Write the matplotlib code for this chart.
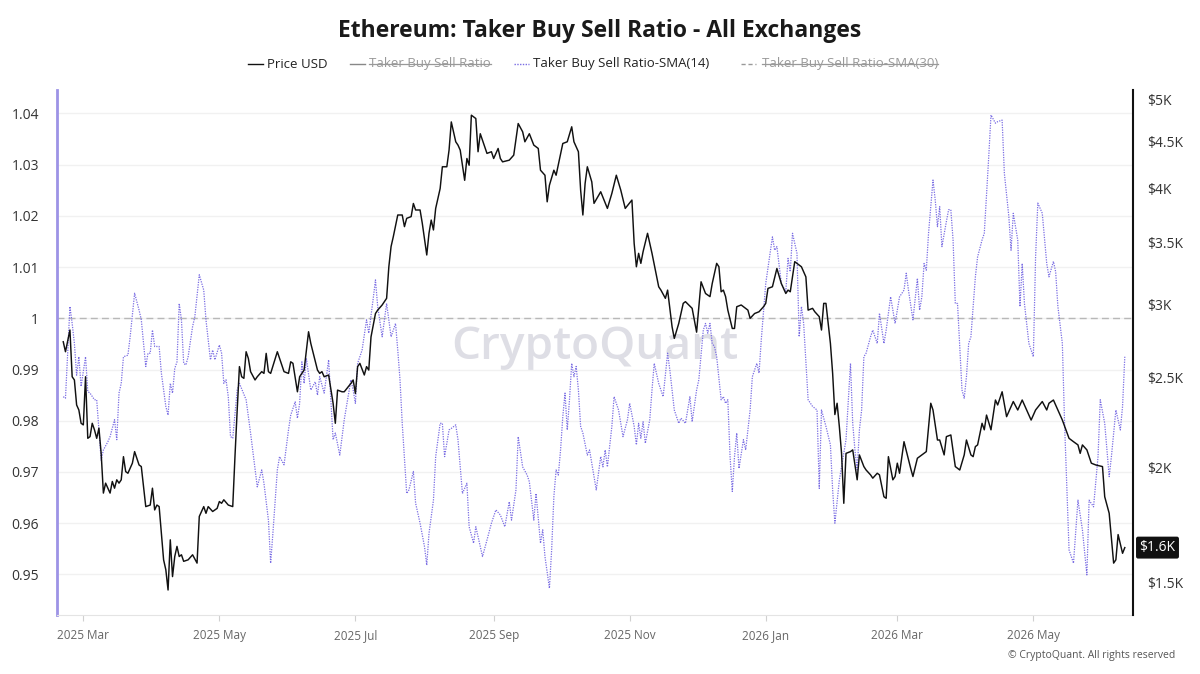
import matplotlib
matplotlib.use("Agg")
import matplotlib.pyplot as plt
import matplotlib.dates as mdates
import matplotlib.transforms as mtransforms
from matplotlib.lines import Line2D
from matplotlib.ticker import FixedLocator, FuncFormatter, NullLocator
import pandas as pd

plt.rcParams['font.family'] = ['Open Sans', 'DejaVu Sans']

# Series start (day 0)
start = pd.Timestamp("2025-02-20")

# Price USD (right axis, log) - days since start / value
price_day = [0, 1, 3, 4, 5, 6, 7, 8, 9, 10, 11, 12, 13, 14, 15, 16, 17, 18, 19, 20,
             21, 22, 23, 24, 25, 26, 27, 28, 29, 31, 32, 34, 35, 36, 37, 39, 40, 41, 42, 43,
             44, 45, 46, 47, 48, 49, 50, 51, 52, 53, 54, 56, 58, 60, 61, 62, 63, 64, 65, 67,
             69, 70, 71, 72, 74, 76, 77, 78, 79, 80, 81, 82, 83, 84, 86, 87, 89, 90, 91, 92,
             93, 96, 99, 101, 102, 103, 105, 106, 108, 110, 111, 114, 115, 116, 117, 119, 121, 122, 123, 125,
             126, 129, 130, 131, 132, 133, 135, 136, 137, 138, 140, 141, 143, 145, 146, 147, 148, 150, 152, 153,
             154, 156, 157, 158, 160, 161, 163, 164, 165, 166, 167, 169, 170, 172, 173, 174, 176, 177, 178, 180,
             181, 182, 183, 185, 186, 187, 188, 190, 192, 193, 195, 196, 197, 200, 202, 204, 206, 207, 209, 211,
             213, 214, 216, 217, 218, 220, 221, 224, 226, 228, 229, 231, 232, 233, 234, 235, 237, 238, 241, 244,
             246, 248, 250, 252, 255, 256, 257, 258, 259, 260, 262, 264, 267, 268, 270, 271, 273, 274, 276, 278,
             279, 282, 284, 286, 288, 290, 291, 293, 294, 295, 296, 297, 298, 300, 301, 302, 304, 307, 308, 310,
             312, 314, 315, 316, 318, 320, 322, 324, 325, 326, 328, 330, 331, 333, 334, 336, 337, 339, 340, 341,
             342, 343, 344, 345, 346, 347, 348, 349, 350, 351, 353, 354, 356, 357, 359, 360, 362, 363, 365, 366,
             368, 369, 370, 372, 373, 374, 375, 377, 380, 381, 383, 387, 389, 390, 392, 393, 395, 396, 398, 400,
             402, 404, 405, 407, 408, 409, 410, 412, 413, 414, 416, 418, 419, 421, 423, 426, 428, 430, 434, 436,
             439, 441, 442, 444, 447, 448, 451, 453, 455, 456, 457, 459, 461, 463, 466, 467, 469, 471, 472, 473,
             475, 476]
price_usd = [2734, 2667, 2815, 2506, 2486, 2336, 2307, 2232, 2223, 2506, 2150, 2159, 2232, 2196, 2150, 2205, 2071, 1876, 1923, 1899,
             1876, 1931, 1899, 1939, 1923, 1939, 2054, 1979, 1971, 2021, 2080, 2012, 2004, 1907, 1814, 1821, 1899, 1799, 1821, 1814,
             1698, 1589, 1550, 1474, 1670, 1524, 1602, 1643, 1602, 1609, 1583, 1589, 1609, 1576, 1770, 1792, 1814, 1784, 1814, 1792,
             1806, 1837, 1829, 1845, 1821, 1814, 2054, 2307, 2570, 2506, 2496, 2667, 2623, 2538, 2486, 2506, 2538, 2527, 2656, 2538,
             2527, 2667, 2538, 2527, 2601, 2591, 2414, 2506, 2548, 2803, 2723, 2548, 2527, 2538, 2506, 2517, 2346, 2232, 2424, 2414,
             2414, 2465, 2486, 2404, 2570, 2591, 2517, 2570, 2548, 2767, 2933, 2958, 2996, 3046, 3295, 3465, 3551, 3748, 3748, 3641,
             3717, 3733, 3857, 3795, 3795, 3671, 3393, 3581, 3701, 3611, 3810, 4003, 4226, 4226, 4405, 4725, 4497, 4460, 4405, 4086,
             4314, 4242, 4805, 4765, 4387, 4588, 4515, 4369, 4387, 4314, 4423, 4314, 4278, 4296, 4350, 4706, 4610, 4497, 4588, 4460,
             4423, 4190, 4138, 3873, 4036, 4190, 4138, 4478, 4497, 4668, 4497, 4387, 3987, 3748, 4053, 4226, 4070, 3858, 3971, 3810,
             3955, 4138, 3987, 3810, 3890, 3492, 3295, 3407, 3323, 3421, 3581, 3407, 3135, 3109, 3046, 3109, 2838, 2757, 2862, 3008,
             3021, 2971, 2800, 3174, 3083, 3059, 3160, 3323, 3295, 3096, 3109, 3059, 2958, 2826, 2826, 2983, 2996, 2958, 2898, 2933,
             2946, 2983, 3008, 3122, 3135, 3281, 3160, 3083, 3109, 3096, 3337, 3309, 3295, 3213, 2958, 2971, 2946, 2910, 2815, 3008,
             3008, 2862, 2723, 2527, 2281, 2346, 2214, 2071, 1829, 2071, 2080, 2089, 1939, 2063, 2004, 1987, 1963, 1947, 1971, 1963,
             1859, 1852, 2054, 1939, 1955, 2021, 1971, 2132, 1995, 1955, 2046, 2080, 2346, 2307, 2141, 2141, 2063, 2159, 2168, 2004,
             1987, 2063, 2141, 2063, 2054, 2106, 2115, 2232, 2196, 2278, 2196, 2365, 2336, 2414, 2269, 2356, 2307, 2365, 2250, 2307,
             2356, 2307, 2346, 2365, 2278, 2250, 2150, 2132, 2115, 2071, 2115, 2089, 2021, 2012, 2004, 1859, 1784, 1576, 1589, 1692,
             1615, 1638]

# Taker Buy Sell Ratio-SMA(14) (left axis) - days since start / value
sma_day = [0, 1, 3, 4, 5, 6, 7, 8, 10, 11, 12, 14, 15, 17, 18, 20, 21, 23, 24, 25,
           26, 27, 29, 30, 32, 34, 35, 37, 38, 39, 40, 41, 43, 44, 46, 47, 48, 49, 50, 51,
           52, 53, 54, 55, 56, 58, 59, 61, 63, 64, 66, 67, 68, 70, 71, 72, 73, 74, 75, 76,
           78, 79, 82, 84, 87, 89, 90, 92, 93, 94, 96, 97, 99, 101, 102, 104, 105, 106, 107, 108,
           109, 111, 113, 114, 115, 117, 119, 121, 122, 124, 126, 129, 130, 131, 132, 134, 136, 137, 139, 140,
           141, 143, 145, 147, 149, 150, 151, 152, 154, 155, 157, 158, 160, 162, 163, 164, 166, 167, 169, 170,
           171, 173, 174, 176, 177, 179, 181, 182, 184, 185, 188, 190, 192, 194, 196, 198, 200, 201, 203, 204,
           206, 208, 209, 211, 212, 214, 215, 216, 218, 219, 220, 221, 222, 223, 224, 225, 226, 227, 228, 229,
           230, 231, 232, 233, 235, 236, 237, 239, 241, 242, 243, 244, 246, 247, 249, 251, 253, 254, 256, 257,
           258, 259, 260, 261, 263, 264, 265, 267, 269, 271, 272, 273, 274, 276, 277, 279, 281, 282, 284, 285,
           287, 288, 289, 290, 291, 292, 293, 295, 296, 297, 298, 299, 300, 301, 302, 303, 305, 306, 308, 309,
           311, 312, 313, 315, 318, 319, 320, 322, 324, 325, 326, 327, 329, 330, 331, 332, 334, 336, 338, 339,
           340, 342, 344, 345, 346, 348, 351, 353, 354, 355, 356, 357, 358, 359, 360, 362, 363, 365, 366, 368,
           369, 371, 373, 375, 377, 378, 379, 381, 383, 384, 385, 386, 387, 388, 390, 391, 392, 393, 394, 396,
           397, 398, 399, 400, 401, 402, 403, 404, 405, 406, 407, 409, 410, 412, 413, 415, 416, 418, 419, 421,
           422, 424, 425, 426, 428, 429, 430, 431, 433, 435, 436, 437, 439, 441, 442, 444, 445, 446, 448, 449,
           451, 453, 455, 457, 459, 460, 462, 464, 465, 467, 469, 470, 472, 474, 475, 476]
sma14 = [0.9847, 0.9844, 1.0023, 0.9990, 0.9951, 0.9889, 0.9925, 0.9867, 0.9925, 0.9857, 0.9854, 0.9841, 0.9841, 0.9723, 0.9743, 0.9759, 0.9769, 0.9802, 0.9763, 0.9854,
         0.9873, 0.9925, 0.9928, 0.9964, 1.0049, 1.0016, 0.9997, 0.9906, 0.9932, 0.9932, 0.9977, 0.9945, 0.9945, 0.9893, 0.9828, 0.9811, 0.9873, 0.9854, 0.9902, 0.9915,
         1.0029, 0.9997, 0.9912, 0.9909, 0.9925, 0.9984, 1.0003, 1.0085, 1.0055, 0.9997, 0.9919, 0.9938, 0.9919, 0.9948, 0.9932, 0.9873, 0.9880, 0.9847, 0.9769, 0.9766,
         0.9860, 0.9873, 0.9841, 0.9776, 0.9671, 0.9704, 0.9678, 0.9606, 0.9522, 0.9580, 0.9704, 0.9730, 0.9714, 0.9782, 0.9811, 0.9837, 0.9805, 0.9834, 0.9915, 0.9873,
         0.9922, 0.9860, 0.9876, 0.9850, 0.9886, 0.9854, 0.9919, 0.9763, 0.9776, 0.9733, 0.9802, 0.9880, 0.9860, 0.9834, 0.9912, 0.9938, 0.9997, 0.9971, 1.0039, 1.0075,
         1.0023, 0.9964, 1.0029, 0.9964, 0.9990, 0.9938, 0.9880, 0.9795, 0.9658, 0.9665, 0.9701, 0.9639, 0.9600, 0.9554, 0.9518, 0.9580, 0.9645, 0.9730, 0.9795, 0.9795,
         0.9730, 0.9782, 0.9785, 0.9792, 0.9763, 0.9658, 0.9678, 0.9593, 0.9561, 0.9593, 0.9535, 0.9567, 0.9600, 0.9626, 0.9616, 0.9593, 0.9642, 0.9606, 0.9665, 0.9769,
         0.9710, 0.9694, 0.9681, 0.9606, 0.9658, 0.9561, 0.9587, 0.9535, 0.9473, 0.9548, 0.9652, 0.9704, 0.9694, 0.9743, 0.9808, 0.9854, 0.9782, 0.9841, 0.9912, 0.9886,
         0.9906, 0.9860, 0.9789, 0.9776, 0.9733, 0.9743, 0.9717, 0.9665, 0.9730, 0.9710, 0.9743, 0.9710, 0.9789, 0.9847, 0.9821, 0.9769, 0.9802, 0.9834, 0.9789, 0.9753,
         0.9795, 0.9766, 0.9798, 0.9756, 0.9802, 0.9860, 0.9912, 0.9873, 0.9847, 0.9932, 0.9899, 0.9860, 0.9821, 0.9795, 0.9805, 0.9795, 0.9847, 0.9798, 0.9860, 0.9880,
         0.9977, 0.9990, 0.9971, 0.9990, 0.9951, 0.9945, 0.9925, 0.9841, 0.9847, 0.9834, 0.9841, 0.9730, 0.9662, 0.9730, 0.9776, 0.9707, 0.9763, 0.9743, 0.9821, 0.9886,
         0.9912, 0.9893, 0.9958, 1.0068, 1.0159, 1.0133, 1.0140, 1.0068, 1.0052, 1.0117, 1.0091, 1.0166, 1.0127, 0.9964, 1.0023, 0.9990, 0.9841, 0.9828, 0.9821, 0.9668,
         0.9821, 0.9789, 0.9753, 0.9665, 0.9600, 0.9684, 0.9763, 0.9912, 0.9795, 0.9743, 0.9704, 0.9782, 0.9821, 0.9925, 0.9932, 0.9964, 0.9977, 0.9951, 1.0010, 0.9951,
         0.9977, 1.0042, 0.9990, 1.0042, 1.0055, 1.0088, 1.0055, 0.9997, 1.0078, 1.0016, 1.0042, 1.0107, 1.0094, 1.0166, 1.0270, 1.0231, 1.0179, 1.0218, 1.0140, 1.0189,
         1.0212, 1.0212, 1.0153, 1.0029, 1.0029, 0.9945, 0.9860, 0.9844, 0.9886, 0.9951, 0.9964, 1.0081, 1.0120, 1.0153, 1.0166, 1.0316, 1.0397, 1.0381, 1.0384, 1.0387,
         1.0283, 1.0199, 1.0133, 1.0205, 1.0153, 1.0023, 1.0107, 1.0029, 0.9951, 0.9925, 1.0120, 1.0225, 1.0205, 1.0107, 1.0081, 1.0111, 1.0091, 1.0023, 0.9951, 0.9795,
         0.9548, 0.9522, 0.9645, 0.9587, 0.9499, 0.9645, 0.9632, 0.9730, 0.9841, 0.9795, 0.9691, 0.9730, 0.9821, 0.9782, 0.9828, 0.9925]

ratio_ticks = [0.95, 0.96, 0.97, 0.98, 0.99, 1.00, 1.01, 1.02, 1.03, 1.04]
price_ticks = [1500, 2000, 2500, 3000, 3500, 4000, 4500, 5000]

legend_labels = ["Price USD", "Taker Buy Sell Ratio", "Taker Buy Sell Ratio-SMA(14)", "Taker Buy Sell Ratio-SMA(30)"]
legend_hidden = [False, True, False, True]

price_dates = start + pd.to_timedelta(price_day, unit="D")
sma_dates = start + pd.to_timedelta(sma_day, unit="D")

purple = "#7a6de3"

fig = plt.figure(figsize=(12, 6.74), dpi=100)
ax = fig.add_axes([0.0475, 0.0875, 0.8967, 0.7789])
ax2 = ax.twinx()

# watermark
ax.text(0.5, 0.51, "CryptoQuant", transform=ax.transAxes, ha="center", va="center",
        fontsize=33, fontweight="semibold", color="#dedee5", zorder=0)

ax.axhline(1.0, color="#b8b8b8", lw=1, dashes=(5, 3), zorder=1)
ax.plot(sma_dates, sma14, color=purple, lw=0.9, linestyle=(0, (1, 1)), zorder=2)
ax2.plot(price_dates, price_usd, color="#111111", lw=1.05, zorder=3)

ax.set_ylim(0.94207, 1.04457)
ax2.set_yscale("log")
ax2.set_ylim(1385, 5115)
ax.set_xlim(start - pd.Timedelta(days=2.8), start + pd.Timedelta(days=479.7))

ax.yaxis.set_major_locator(FixedLocator(ratio_ticks))
ax.yaxis.set_major_formatter(FuncFormatter(lambda v, p: f"{round(v, 2):g}"))
ax.yaxis.grid(True, color="#f1f1f1", lw=1)
ax.set_axisbelow(True)
ax.tick_params(axis="y", length=0, pad=13, labelsize=10, labelcolor="#333333")

ax2.yaxis.set_major_locator(FixedLocator(price_ticks))
ax2.yaxis.set_minor_locator(NullLocator())
ax2.yaxis.set_major_formatter(FuncFormatter(lambda v, p: f"${v / 1000:g}K"))
ax2.tick_params(axis="y", which="both", length=0, pad=10, labelsize=10, labelcolor="#333333")

ax.xaxis.set_major_locator(mdates.MonthLocator(bymonth=[1, 3, 5, 7, 9, 11]))
ax.xaxis.set_major_formatter(mdates.DateFormatter("%Y %b"))
ax.tick_params(axis="x", length=4, color="#d0d0d0", labelsize=8.5, labelcolor="#666666", pad=6)

for s in ["top", "right"]:
    ax.spines[s].set_visible(False)
ax.spines["left"].set_color("#9d93e6")
ax.spines["left"].set_linewidth(2)
ax.spines["bottom"].set_color("#e4e4e4")
for s in ["top", "left", "bottom"]:
    ax2.spines[s].set_visible(False)
ax2.spines["right"].set_color("#111111")
ax2.spines["right"].set_linewidth(1.5)

# last value marker
last_tf = mtransforms.blended_transform_factory(ax2.transAxes, ax2.transData)
ax2.text(1.006, price_usd[-1], f"${price_usd[-1] / 1000:.1f}K", transform=last_tf,
         ha="left", va="center", fontsize=10, color="white",
         bbox=dict(boxstyle="round,pad=0.25,rounding_size=0.15", fc="#111111", ec="none"))

# title
fig.text(0.5, 0.954, "Ethereum: Taker Buy Sell Ratio - All Exchanges", ha="center", va="center",
         fontsize=16.5, fontweight="bold", color="#1a1a1a")

# legend
W, H = 1200, 674
ly = 1 - 64 / H
line_x = [248, 350, 514, 741]
text_x = [267, 369, 533, 762]
styles = [dict(color="#111111", lw=1.0, linestyle="-"),
          dict(color="#888888", lw=1.0, linestyle="-"),
          dict(color=purple, lw=1.0, linestyle=(0, (1, 1))),
          dict(color="#999999", lw=1.0, linestyle=(0, (3, 2)))]
texts = []
for lx, tx, lab, hid, st in zip(line_x, text_x, legend_labels, legend_hidden, styles):
    fig.add_artist(Line2D([lx / W, (lx + 15) / W], [ly, ly], transform=fig.transFigure, **st))
    t = fig.text(tx / W, ly, lab, ha="left", va="center", fontsize=9.5,
                 color="#999999" if hid else "#222222")
    texts.append((t, hid))

fig.canvas.draw()
for t, hid in texts:
    if hid:
        bb = t.get_window_extent()
        ym = (bb.y0 + bb.height * 0.5) / fig.bbox.height
        fig.add_artist(Line2D([bb.x0 / fig.bbox.width, bb.x1 / fig.bbox.width], [ym, ym],
                              transform=fig.transFigure, color="#999999", lw=0.9))

fig.text(0.979, 0.027, "© CryptoQuant. All rights reserved", ha="right", va="center",
         fontsize=7.5, color="#555555")

fig.savefig("out.png", dpi=100)
